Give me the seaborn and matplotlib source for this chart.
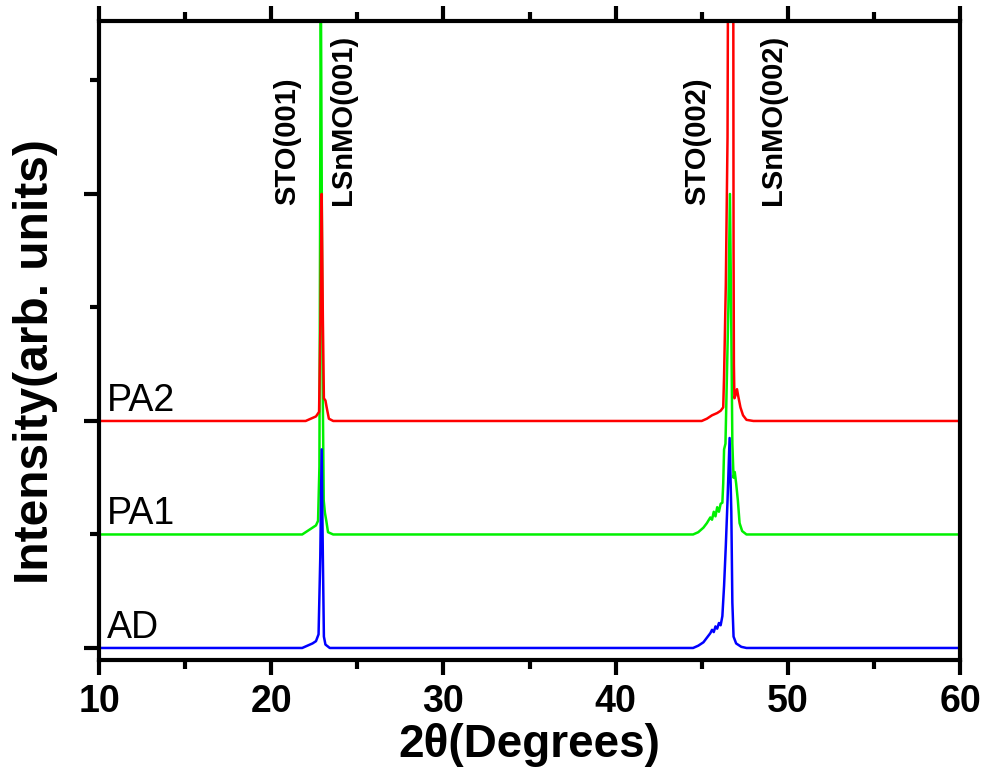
import numpy as np
import pandas as pd
import matplotlib
matplotlib.use("Agg")
import matplotlib.pyplot as plt
import seaborn as sns
from matplotlib.ticker import MultipleLocator

# ---- XRD scans (2theta in degrees, intensity in arb. units above each baseline) ----
# AD (as-deposited)
ad_2theta = [10.0, 21.8, 22.1, 22.4, 22.6, 22.75, 22.85, 22.93, 23.0, 23.06, 23.15, 23.4,
             44.5, 44.8, 45.1, 45.3, 45.5, 45.6, 45.7, 45.8, 45.9, 46.0, 46.1, 46.2, 46.3,
             46.4, 46.5, 46.62, 46.72, 46.78, 46.85, 47.0, 47.3, 47.6, 60.0]
ad_int = [0.0, 0.0, 0.02, 0.04, 0.06, 0.12, 0.8, 1.75, 0.8, 0.1, 0.03, 0.0,
          0.0, 0.02, 0.05, 0.09, 0.13, 0.16, 0.14, 0.19, 0.17, 0.22, 0.2, 0.28, 0.55,
          0.9, 1.3, 1.85, 1.2, 0.4, 0.1, 0.04, 0.01, 0.0, 0.0]

# PA1
pa1_2theta = [10.0, 21.8, 22.1, 22.4, 22.6, 22.72, 22.8, 22.88, 22.98, 23.05, 23.12, 23.2,
              23.3, 23.6,
              44.5, 44.8, 45.1, 45.3, 45.5, 45.6, 45.7, 45.8, 45.9, 46.0, 46.1, 46.2,
              46.25, 46.3, 46.38, 46.45, 46.55, 46.64, 46.72, 46.78, 46.85, 46.92, 47.0,
              47.1, 47.2, 47.35, 47.6, 60.0]
pa1_int = [0.0, 0.0, 0.03, 0.06, 0.08, 0.12, 0.6, 5.0, 1.5, 0.3, 0.19, 0.12,
           0.02, 0.0,
           0.0, 0.02, 0.06, 0.1, 0.15, 0.13, 0.2, 0.16, 0.24, 0.2, 0.27, 0.28,
           0.45, 0.75, 0.8, 1.3, 2.0, 3.0, 1.8, 0.8, 0.5, 0.55, 0.45,
           0.3, 0.1, 0.03, 0.0, 0.0]

# PA2
pa2_2theta = [10.0, 22.0, 22.3, 22.6, 22.78, 22.86, 22.93, 23.0, 23.06, 23.15, 23.22,
              23.35, 23.6,
              45.0, 45.3, 45.6, 45.9, 46.1, 46.25, 46.3, 46.4, 46.5, 46.54, 46.68,
              46.83, 46.85, 46.87, 46.9, 46.95, 47.05, 47.12, 47.25, 47.4, 47.6, 48.0,
              60.0]
pa2_int = [0.0, 0.0, 0.02, 0.04, 0.08, 0.9, 2.0, 0.9, 0.2, 0.18, 0.12,
           0.02, 0.0,
           0.0, 0.02, 0.05, 0.07, 0.09, 0.12, 0.4, 1.2, 2.5, 4.5, 12.0,
           4.5, 1.5, 0.5, 0.2, 0.22, 0.28, 0.22, 0.12, 0.05, 0.01, 0.0,
           0.0]

samples = ["PA1", "PA2", "AD"]
offsets = {"AD": 0.0, "PA1": 1.0, "PA2": 2.0}
colors = {"AD": "#0000FF", "PA1": "#00F000", "PA2": "#FF0000"}

peak_labels = ["STO(001)", "LSnMO(001)", "STO(002)", "LSnMO(002)"]
peak_label_x = [20.92, 24.17, 44.73, 49.14]

scans = {"AD": (ad_2theta, ad_int), "PA1": (pa1_2theta, pa1_int), "PA2": (pa2_2theta, pa2_int)}
frames = []
for name in samples:
    tt, inten = scans[name]
    frames.append(pd.DataFrame({
        "two_theta": tt,
        "intensity": np.asarray(inten) + offsets[name],
        "sample": name,
    }))
df = pd.concat(frames, ignore_index=True)

sns.set_theme(style="white")
plt.rcParams["font.family"] = ["Liberation Sans", "DejaVu Sans"]
plt.rcParams.update({
    "text.color": "black",
    "axes.labelcolor": "black",
    "xtick.color": "black",
    "ytick.color": "black",
    "axes.edgecolor": "black",
})

fig = plt.figure(figsize=(9.88, 7.73), dpi=100)
ax = fig.add_axes([99 / 988, 1 - 660 / 773, (960 - 99) / 988, (660 - 21) / 773])

sns.lineplot(data=df, x="two_theta", y="intensity", hue="sample", hue_order=samples,
             palette=colors, estimator=None, sort=False, linewidth=1.8, legend=False, ax=ax)

ax.set_xlim(10, 60)
ax.set_ylim(-0.106, 5.524)

ax.xaxis.set_major_locator(MultipleLocator(10))
ax.xaxis.set_minor_locator(MultipleLocator(5))
ax.yaxis.set_major_locator(MultipleLocator(2))
ax.yaxis.set_minor_locator(MultipleLocator(1))

ax.tick_params(axis="x", which="both", direction="out", bottom=True, top=True,
               labelbottom=True, labeltop=False, width=3, color="black")
ax.tick_params(axis="x", which="major", length=10.5, pad=7, labelsize=27, labelcolor="black")
ax.tick_params(axis="x", which="minor", length=6.5)
ax.tick_params(axis="y", which="both", direction="out", left=True, right=False,
               labelleft=False, width=3, color="black")
ax.tick_params(axis="y", which="major", length=10.5)
ax.tick_params(axis="y", which="minor", length=6.5)
for lbl in ax.get_xticklabels():
    lbl.set_fontweight("bold")

for side in ["left", "right", "top", "bottom"]:
    ax.spines[side].set_visible(True)
    ax.spines[side].set_linewidth(3)
    ax.spines[side].set_color("black")

ax.set_xlabel("2θ(Degrees)", fontsize=33, fontweight="bold", labelpad=2, color="black")
ax.set_ylabel("Intensity(arb. units)", fontsize=34.5, fontweight="bold", color="black")
ax.yaxis.set_label_coords(-0.048, (660 - 362) / 639)

for name in ["PA2", "PA1", "AD"]:
    ax.text(10.46, offsets[name] + 0.09, name, fontsize=27, ha="left", va="baseline",
            color="black")

for txt, xpos in zip(peak_labels, peak_label_x):
    ax.text(xpos, 3.90, txt, rotation=90, fontsize=21, fontweight="bold",
            ha="center", va="bottom", color="black")

fig.savefig("out.png", dpi=100)
